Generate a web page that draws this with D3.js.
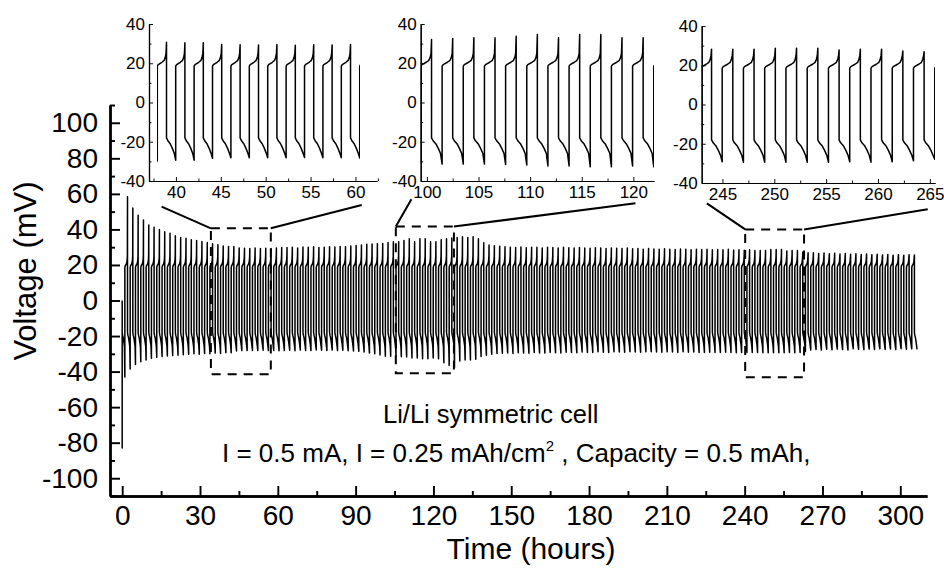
<!DOCTYPE html>
<html>
<head>
<meta charset="utf-8">
<script src="https://cdn.jsdelivr.net/npm/d3@7"></script>
<style>
  body { margin: 0; background: #fff; }
  svg { font-family: "Liberation Sans", Arial, sans-serif; }
</style>
</head>
<body>
<div id="chart"></div>
<script>
// ---- values ----
const cycleHours = 2.05;      // one stripping + plating step
const posStart = 18.5;        // mV right after switching to the positive half
const negStart = -18;         // mV right after switching to the negative half

// voltage at the end of each positive half (cycle 0..148)
const posPeaks = [
  58.4, 52, 48, 45.3, 42.5, 41.2, 40, 38.7, 37.8, 36.5, 35.5, 35, 34.2, 33.7, 33.2, 32.6, 32, 31.4, 30.7, 30.4,
  30.4, 29.6, 29.4, 29.3, 29.5, 29.2, 29.4, 29.3, 29.6, 29.8,
  29.8, 30, 29.6, 30.1, 29.9, 30.2, 29.8, 30, 30.3, 30.1,
  30.4, 30.2, 30.6, 31, 31.2, 31.6, 31.8, 32,
  32.1, 32.6, 33.0, 33.0, 33.8, 34.7, 33.0, 34.7, 34.7, 33.0, 33.0,
  34.2, 34.8, 35.2, 35.5, 35.8, 35.5, 35.8, 34.8,
  32.5, 31.2, 30.8, 30.5, 30.2,
  30, 29.8, 30.1, 29.7, 30, 29.9, 29.6, 30, 29.8, 29.5, 29.9, 29.7, 29.5, 29.8, 29.6, 29.4, 29.7, 29.5, 29.3, 29.6,
  29.4, 29.2, 29.5, 29.1, 29.3, 28.9, 29.2, 29, 28.8, 29.1, 28.9, 28.7, 29, 28.8, 28.6, 28.9, 28.7, 28.8, 28.6,
  28.7, 28.5, 28.8, 28.4, 28.6, 28.3, 28.5,
  28.2, 28.2, 28.2, 28.7, 28.7, 28.7, 27.8, 28.2, 28.2, 27.3, 26.9,
  26.8, 26.5, 26.7, 26.3, 26.6, 26.2, 26.4, 26, 26.3, 25.9, 26.1, 25.8, 26, 25.6, 25.9, 25.5, 25.8, 25.4, 25.7, 25.6
];

// voltage at the end of each negative half (cycle 0..149)
const negPeaks = [
  -43, -38.5, -36, -34.5, -33.5, -32.5, -32, -31.5, -31.2, -31, -30.8, -30.5, -30.3, -30, -30.2, -29.8, -30, -29.6, -29.8,
  -29.4, -29.4, -28.4, -28.2, -28.2, -28.1, -28.2, -28, -28.2, -28.1, -28.3,
  -28.2, -28, -28.3, -27.9, -28.1, -28.2, -27.8, -28, -28.1, -27.9, -28.2, -28, -28.3, -28.4, -28.6,
  -29, -29.5, -30, -30.6,
  -31.4, -31.4, -31.4, -31.6, -31.8, -32.3, -32.3, -32.8, -32.8, -32.3, -32.8,
  -35, -36.5, -37.5, -34, -33.5, -33.5, -33,
  -31.5, -30.8, -30.2, -29.8,
  -29.7, -29.5, -29.8, -29.4, -29.6, -29.7, -29.3, -29.5, -29.6, -29.2,
  -29.4, -29.5, -29.1, -29.3, -29.4, -29.0, -29.3, -29.2, -28.9, -29.1,
  -29.2, -28.9, -29.0, -29.1, -28.8, -29.0, -29.1, -28.9, -28.8, -29.0,
  -29.1, -28.9, -29.0, -29.2, -28.9, -29.1, -29.0, -29.2, -29.3, -29.1,
  -29.2, -29.3, -29.1, -29.2, -29.4, -29.2, -29.3, -29.2,
  -29.2, -29.4, -29.4, -29.4, -29.4, -29.4, -29.2, -29.4, -29.2, -28.7, -27.9,
  -27.6, -27.9, -27.4, -27.7, -27.3, -27.6, -27.8, -27.2, -27.5, -27.7, -27.3, -27.6, -27.2, -27.5, -27.3, -27.6, -27.1, -27.4, -27.2, -27.5
];

// shape of one half cycle: [fraction of the half, mV offset from its start]
const posShape = [[0, 0], [0.1, 0.8], [0.5, 2.0], [0.75, 3.0], [0.87, 4.5], [0.95, 6.5]];
const negShape = [[0, 0], [0.15, -1.5], [0.4, -3], [0.65, -5.5], [0.85, -8]];
// first point and nucleation spike [hours, mV]
const startTrace = [[0, 0], [0, -83]];

const xTicks = [0, 30, 60, 90, 120, 150, 180, 210, 240, 270, 300];
const xMinor = [15, 45, 75, 105, 135, 165, 195, 225, 255, 285];
const yTicks = [-100, -80, -60, -40, -20, 0, 20, 40, 60, 80, 100];
const yMinor = [-110, -90, -70, -50, -30, -10, 10, 30, 50, 70, 90, 110];

// zoomed windows (hours) and their dashed boxes in the main plot (hours, mV)
const insetDomains = [[37, 62.4], [99.4, 122.0], [243.0, 265.5]];
const insetShown = [[37.9, 60.5], [99.4, 122.0], [243.0, 265.5]];
const insetTicks = [[40, 45, 50, 55, 60], [100, 105, 110, 115, 120], [245, 250, 255, 260, 265]];
const insetMinor = [[37.5, 42.5, 47.5, 52.5, 57.5, 62.5], [102.5, 107.5, 112.5, 117.5], [247.5, 252.5, 257.5, 262.5]];
const insetYTicks = [-40, -20, 0, 20, 40];
const insetYMinor = [-30, -10, 10, 30];
const boxHours = [[34.2, 57.3], [105.5, 127.9], [240.2, 262.9]];
const boxVolts = [[-41.5, 40.6], [-41, 41.6], [-43.2, 40]];

// ---- build the voltage trace ----
function buildTrace() {
    const pts = startTrace.map(d => ({ t: d[0], v: d[1] }));
    const half = cycleHours / 2;
    negPeaks.forEach((neg, k) => {
        const t0 = k * cycleHours;
        negShape.forEach(([u, dv]) => pts.push({ t: t0 + u * half, v: negStart + dv }));
        pts.push({ t: t0 + half, v: neg });
        if (k < posPeaks.length) {
            posShape.forEach(([u, dv]) => pts.push({ t: t0 + half + u * half, v: posStart + dv }));
            pts.push({ t: t0 + cycleHours, v: posPeaks[k] });
        }
    });
    return pts;
}
const trace = buildTrace();

const width = 944, height = 572;
const svg = d3.select("#chart").append("svg")
    .attr("width", width)
    .attr("height", height);

// plain hyphen for negatives, as in the figure
const plain = d => String(d);

function styleAxis(g, lineW, fontSize) {
    g.attr("font-family", null).attr("font-size", fontSize);
    g.select(".domain").attr("stroke", "#000").attr("stroke-width", lineW);
    g.selectAll(".tick line").attr("stroke", "#000").attr("stroke-width", lineW * 0.8);
    g.selectAll(".tick text").attr("fill", "#000");
}

// ---- main plot ----
const x = d3.scaleLinear().domain([-4.7, 310.3]).range([110, 927]);
const y = d3.scaleLinear().domain([-110, 110]).range([496, 105]);

svg.append("path")
    .datum(trace)
    .attr("fill", "none")
    .attr("stroke", "#000")
    .attr("stroke-width", 1.5)
    .attr("stroke-linejoin", "round")
    .attr("d", d3.line().x(d => x(d.t)).y(d => y(d.v)));

svg.append("g")
    .attr("transform", "translate(0,496)")
    .call(d3.axisBottom(x).tickValues(xMinor).tickSizeInner(-5).tickSizeOuter(0).tickFormat(""))
    .call(g => styleAxis(g, 2.4, 28));
svg.append("g")
    .attr("transform", "translate(0,496)")
    .call(d3.axisBottom(x).tickValues(xTicks).tickSizeInner(-10).tickSizeOuter(0).tickPadding(9).tickFormat(plain))
    .call(g => styleAxis(g, 2.4, 28));

svg.append("g")
    .attr("transform", "translate(110,0)")
    .call(d3.axisLeft(y).tickValues(yMinor).tickSizeInner(-5).tickSizeOuter(0).tickFormat(""))
    .call(g => styleAxis(g, 2.4, 28));
svg.append("g")
    .attr("transform", "translate(110,0)")
    .call(d3.axisLeft(y).tickValues(yTicks).tickSizeInner(-10).tickSizeOuter(0).tickPadding(12).tickFormat(plain))
    .call(g => styleAxis(g, 2.4, 28));

svg.append("text")
    .attr("transform", "translate(35.5,271) rotate(-90)")
    .attr("text-anchor", "middle")
    .attr("font-size", 31)
    .text("Voltage (mV)");

svg.append("text")
    .attr("x", 531)
    .attr("y", 559)
    .attr("text-anchor", "middle")
    .attr("font-size", 30)
    .text("Time (hours)");

svg.append("text")
    .attr("x", 383)
    .attr("y", 423)
    .attr("font-size", 25.5)
    .text("Li/Li symmetric cell");

const note = svg.append("text")
    .attr("x", 222)
    .attr("y", 462)
    .attr("font-size", 26)
    .style("white-space", "pre");
note.append("tspan").text("I = 0.5 mA, I = 0.25 mAh/cm");
note.append("tspan").attr("dy", -11).attr("font-size", 15).text("2");
note.append("tspan").attr("dy", 11).text(" , Capacity = 0.5 mAh,");

// ---- insets ----
const insetLayout = [
    { left: 149, right: 377, top: 24, bottom: 181, links: [[38.4, 25.7], [60.7, 24]] },
    { left: 420.7, right: 654, top: 24, bottom: 181, links: [[98.5, 18.3], [120.2, 22.3]] },
    { left: 701.7, right: 935, top: 26, bottom: 183, links: [[243.5, 20.3], [264.8, 26.3]] }
];

insetLayout.forEach((box, i) => {
    const ix = d3.scaleLinear().domain(insetDomains[i]).range([box.left, box.right]);
    const iy = d3.scaleLinear().domain([-40, 40]).range([box.bottom, box.top]);

    // dashed window in the main plot
    const [h0, h1] = boxHours[i];
    const [v0, v1] = boxVolts[i];
    svg.append("rect")
        .attr("x", x(h0))
        .attr("y", y(v1))
        .attr("width", x(h1) - x(h0))
        .attr("height", y(v0) - y(v1))
        .attr("fill", "none")
        .attr("stroke", "#000")
        .attr("stroke-width", 2)
        .attr("stroke-dasharray", "9,7");

    // connector lines from the window corners to the inset
    const corners = [[x(h0), y(v1)], [x(h1), y(v1)]];
    box.links.forEach(([h, dy], j) => {
        svg.append("line")
            .attr("x1", corners[j][0])
            .attr("y1", corners[j][1])
            .attr("x2", ix(h))
            .attr("y2", box.bottom + dy)
            .attr("stroke", "#000")
            .attr("stroke-width", 2);
    });

    const clipId = "clip" + i;
    svg.append("clipPath").attr("id", clipId)
        .append("rect")
        .attr("x", ix(insetShown[i][0]))
        .attr("y", 0)
        .attr("width", ix(insetShown[i][1]) - ix(insetShown[i][0]))
        .attr("height", height);

    svg.append("path")
        .datum(trace.filter(d => d.t >= insetShown[i][0] - 2 && d.t <= insetShown[i][1] + 2))
        .attr("clip-path", `url(#${clipId})`)
        .attr("fill", "none")
        .attr("stroke", "#000")
        .attr("stroke-width", 1.5)
        .attr("stroke-linejoin", "round")
        .attr("d", d3.line().x(d => ix(d.t)).y(d => iy(d.v)));

    svg.append("g")
        .attr("transform", `translate(0,${box.bottom})`)
        .call(d3.axisBottom(ix).tickValues(insetMinor[i]).tickSizeInner(-2.5).tickSizeOuter(0).tickFormat(""))
        .call(g => styleAxis(g, 1.2, 17));
    svg.append("g")
        .attr("transform", `translate(0,${box.bottom})`)
        .call(d3.axisBottom(ix).tickValues(insetTicks[i]).tickSizeInner(-4).tickSizeOuter(0).tickPadding(5).tickFormat(plain))
        .call(g => styleAxis(g, 1.2, 17));

    svg.append("g")
        .attr("transform", `translate(${box.left},0)`)
        .call(d3.axisLeft(iy).tickValues(insetYMinor).tickSizeInner(-2.5).tickSizeOuter(0).tickFormat(""))
        .call(g => styleAxis(g, 1.2, 17));
    svg.append("g")
        .attr("transform", `translate(${box.left},0)`)
        .call(d3.axisLeft(iy).tickValues(insetYTicks).tickSizeInner(-4).tickSizeOuter(0).tickPadding(4).tickFormat(plain))
        .call(g => styleAxis(g, 1.2, 17));
});
</script>
</body>
</html>
